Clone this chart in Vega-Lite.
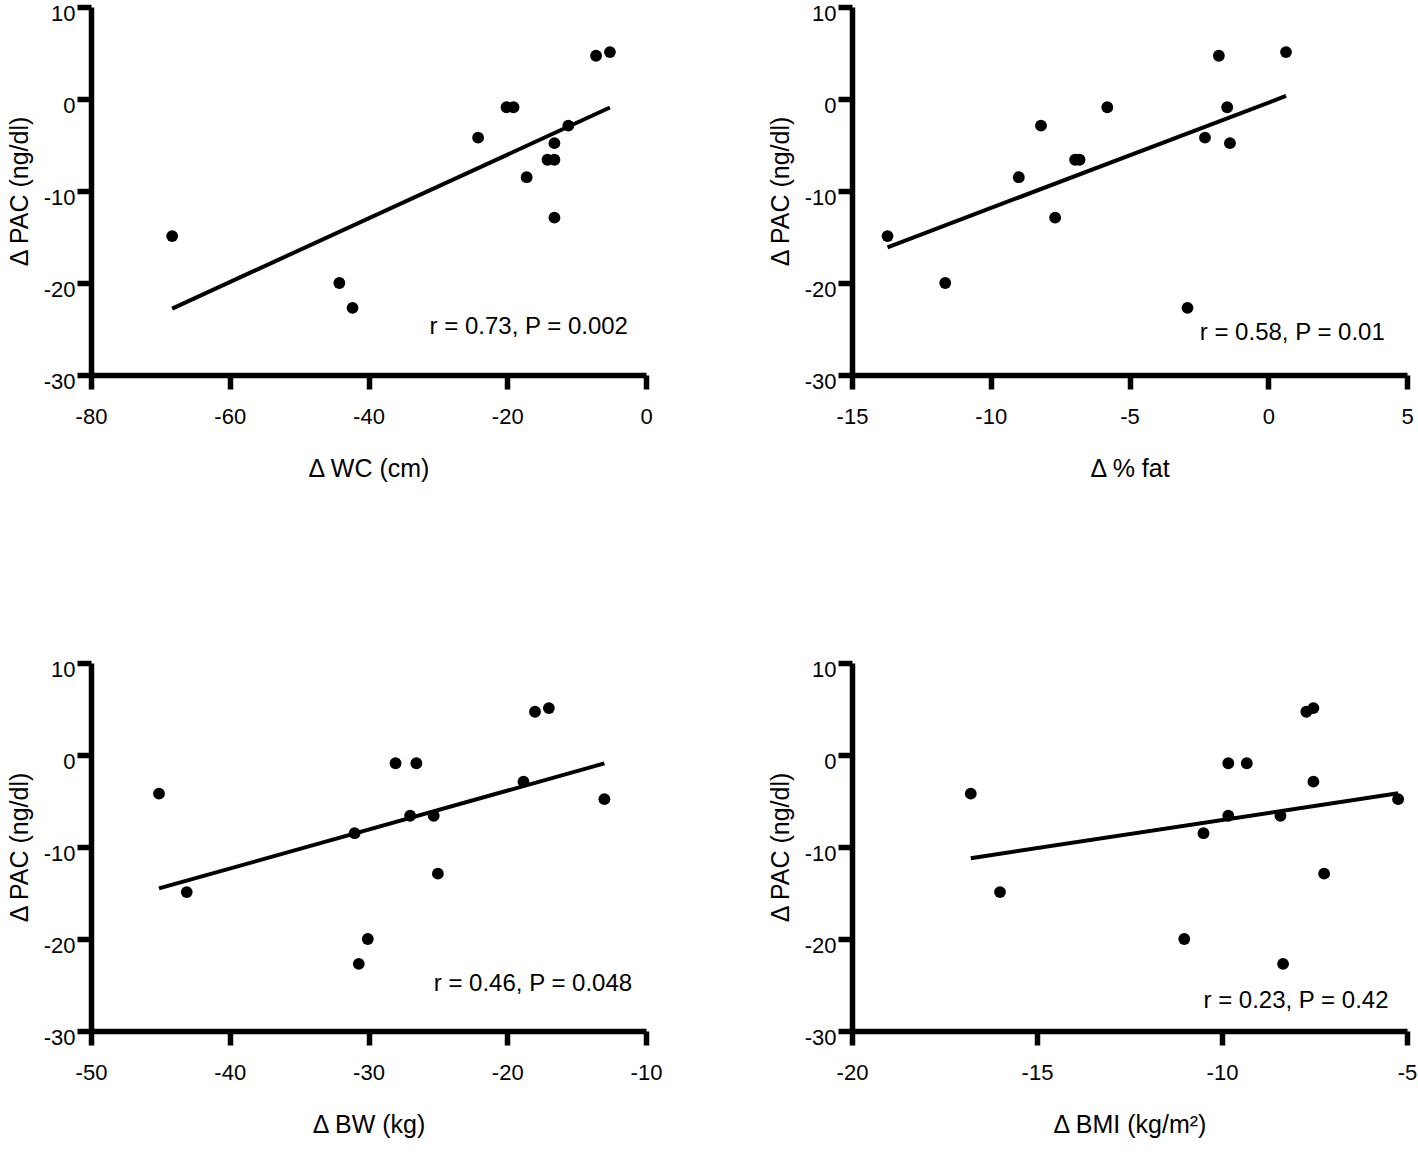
{
  "$schema": "https://vega.github.io/schema/vega-lite/v6.json",
  "background": "white",
  "padding": {"left": 7, "top": 2, "right": 5, "bottom": 5},
  "datasets": {
    "subjects": [
      {"pac": 5.1, "wc": -5.2, "fat": 0.64, "bw": -17.0, "bmi": -7.53},
      {"pac": 4.7, "wc": -7.2, "fat": -1.78, "bw": -18.0, "bmi": -7.72},
      {"pac": -0.9, "wc": -20.1, "fat": -5.8, "bw": -28.05, "bmi": -9.83},
      {"pac": -0.9, "wc": -19.1, "fat": -1.48, "bw": -26.55, "bmi": -9.33},
      {"pac": -2.9, "wc": -11.2, "fat": -8.19, "bw": -18.83, "bmi": -7.53},
      {"pac": -4.2, "wc": -24.2, "fat": -2.28, "bw": -45.1, "bmi": -16.79},
      {"pac": -4.8, "wc": -13.2, "fat": -1.38, "bw": -13.0, "bmi": -5.24},
      {"pac": -6.6, "wc": -14.2, "fat": -6.96, "bw": -27.0, "bmi": -9.83},
      {"pac": -6.6, "wc": -13.2, "fat": -6.8, "bw": -25.3, "bmi": -8.42},
      {"pac": -8.5, "wc": -17.2, "fat": -8.99, "bw": -31.0, "bmi": -10.5},
      {"pac": -12.9, "wc": -13.2, "fat": -7.68, "bw": -25.0, "bmi": -7.24},
      {"pac": -14.9, "wc": -68.3, "fat": -13.72, "bw": -43.1, "bmi": -16.0},
      {"pac": -20.0, "wc": -44.2, "fat": -11.64, "bw": -30.05, "bmi": -11.02},
      {"pac": -22.7, "wc": -42.3, "fat": -2.91, "bw": -30.7, "bmi": -8.35}
    ],
    "notes": [
      {"panel": "wc", "label": "r = 0.73, P = 0.002"},
      {"panel": "fat", "label": "r = 0.58, P = 0.01"},
      {"panel": "bw", "label": "r = 0.46, P = 0.048"},
      {"panel": "bmi", "label": "r = 0.23, P = 0.42"}
    ]
  },
  "config": {
    "view": {"stroke": null},
    "font": "Liberation Sans",
    "locale": {"number": {"decimal": ".", "thousands": ",", "grouping": [3], "currency": ["$", ""], "minus": "-"}},
    "axis": {
      "grid": false,
      "domainColor": "black",
      "domainWidth": 5.5,
      "tickColor": "black",
      "tickWidth": 5.5,
      "tickSize": 14,
      "labelFont": "Liberation Sans",
      "labelFontSize": 22,
      "labelColor": "black",
      "labelFlush": false,
      "labelOverlap": false,
      "titleFont": "Liberation Sans",
      "titleFontSize": 25,
      "titleFontWeight": "normal",
      "titleColor": "black"
    },
    "axisX": {"labelPadding": 17, "titlePadding": 29},
    "axisY": {"labelPadding": 2, "labelOffset": 6, "titlePadding": 11}
  },
  "columns": 2,
  "spacing": {"row": 288, "column": 206},
  "bounds": "flush",
  "concat": [
    {
      "width": 555,
      "height": 368,
      "layer": [
        {"data": {"name": "subjects"}, "mark": {"type": "point", "filled": true, "color": "black", "opacity": 1, "size": 140},
         "encoding": {
           "x": {"field": "wc", "type": "quantitative", "scale": {"domain": [-80, 0], "nice": false, "zero": false}, "axis": {"values": [-80, -60, -40, -20, 0], "title": "Δ WC (cm)"}},
           "y": {"field": "pac", "type": "quantitative", "scale": {"domain": [-30, 10], "nice": false, "zero": false}, "axis": {"values": [-30, -20, -10, 0, 10], "title": "Δ PAC (ng/dl)"}}
         }},
        {"data": {"name": "subjects"}, "transform": [{"regression": "pac", "on": "wc"}], "mark": {"type": "line", "color": "black", "strokeWidth": 4},
         "encoding": {"x": {"field": "wc", "type": "quantitative"}, "y": {"field": "pac", "type": "quantitative"}}},
        {"data": {"name": "notes"}, "transform": [{"filter": "datum.panel === 'wc'"}], "mark": {"type": "text", "align": "right", "baseline": "middle", "fontSize": 24, "fill": "black"},
         "encoding": {"x": {"datum": -2.6, "type": "quantitative"}, "y": {"datum": -24.8, "type": "quantitative"}, "text": {"field": "label", "type": "nominal"}}}
      ]
    },
    {
      "width": 555,
      "height": 368,
      "layer": [
        {"data": {"name": "subjects"}, "mark": {"type": "point", "filled": true, "color": "black", "opacity": 1, "size": 140},
         "encoding": {
           "x": {"field": "fat", "type": "quantitative", "scale": {"domain": [-15, 5], "nice": false, "zero": false}, "axis": {"values": [-15, -10, -5, 0, 5], "title": "Δ % fat"}},
           "y": {"field": "pac", "type": "quantitative", "scale": {"domain": [-30, 10], "nice": false, "zero": false}, "axis": {"values": [-30, -20, -10, 0, 10], "title": "Δ PAC (ng/dl)"}}
         }},
        {"data": {"name": "subjects"}, "transform": [{"regression": "pac", "on": "fat"}], "mark": {"type": "line", "color": "black", "strokeWidth": 4},
         "encoding": {"x": {"field": "fat", "type": "quantitative"}, "y": {"field": "pac", "type": "quantitative"}}},
        {"data": {"name": "notes"}, "transform": [{"filter": "datum.panel === 'fat'"}], "mark": {"type": "text", "align": "right", "baseline": "middle", "fontSize": 24, "fill": "black"},
         "encoding": {"x": {"datum": 4.2, "type": "quantitative"}, "y": {"datum": -25.4, "type": "quantitative"}, "text": {"field": "label", "type": "nominal"}}}
      ]
    },
    {
      "width": 555,
      "height": 368,
      "layer": [
        {"data": {"name": "subjects"}, "mark": {"type": "point", "filled": true, "color": "black", "opacity": 1, "size": 140},
         "encoding": {
           "x": {"field": "bw", "type": "quantitative", "scale": {"domain": [-50, -10], "nice": false, "zero": false}, "axis": {"values": [-50, -40, -30, -20, -10], "title": "Δ BW (kg)"}},
           "y": {"field": "pac", "type": "quantitative", "scale": {"domain": [-30, 10], "nice": false, "zero": false}, "axis": {"values": [-30, -20, -10, 0, 10], "title": "Δ PAC (ng/dl)"}}
         }},
        {"data": {"name": "subjects"}, "transform": [{"regression": "pac", "on": "bw"}], "mark": {"type": "line", "color": "black", "strokeWidth": 4},
         "encoding": {"x": {"field": "bw", "type": "quantitative"}, "y": {"field": "pac", "type": "quantitative"}}},
        {"data": {"name": "notes"}, "transform": [{"filter": "datum.panel === 'bw'"}], "mark": {"type": "text", "align": "right", "baseline": "middle", "fontSize": 24, "fill": "black"},
         "encoding": {"x": {"datum": -11.0, "type": "quantitative"}, "y": {"datum": -24.9, "type": "quantitative"}, "text": {"field": "label", "type": "nominal"}}}
      ]
    },
    {
      "width": 555,
      "height": 368,
      "layer": [
        {"data": {"name": "subjects"}, "mark": {"type": "point", "filled": true, "color": "black", "opacity": 1, "size": 140},
         "encoding": {
           "x": {"field": "bmi", "type": "quantitative", "scale": {"domain": [-20, -5], "nice": false, "zero": false}, "axis": {"values": [-20, -15, -10, -5], "title": "Δ BMI (kg/m²)"}},
           "y": {"field": "pac", "type": "quantitative", "scale": {"domain": [-30, 10], "nice": false, "zero": false}, "axis": {"values": [-30, -20, -10, 0, 10], "title": "Δ PAC (ng/dl)"}}
         }},
        {"data": {"name": "subjects"}, "transform": [{"regression": "pac", "on": "bmi"}], "mark": {"type": "line", "color": "black", "strokeWidth": 4},
         "encoding": {"x": {"field": "bmi", "type": "quantitative"}, "y": {"field": "pac", "type": "quantitative"}}},
        {"data": {"name": "notes"}, "transform": [{"filter": "datum.panel === 'bmi'"}], "mark": {"type": "text", "align": "right", "baseline": "middle", "fontSize": 24, "fill": "black"},
         "encoding": {"x": {"datum": -5.5, "type": "quantitative"}, "y": {"datum": -26.7, "type": "quantitative"}, "text": {"field": "label", "type": "nominal"}}}
      ]
    }
  ]
}
